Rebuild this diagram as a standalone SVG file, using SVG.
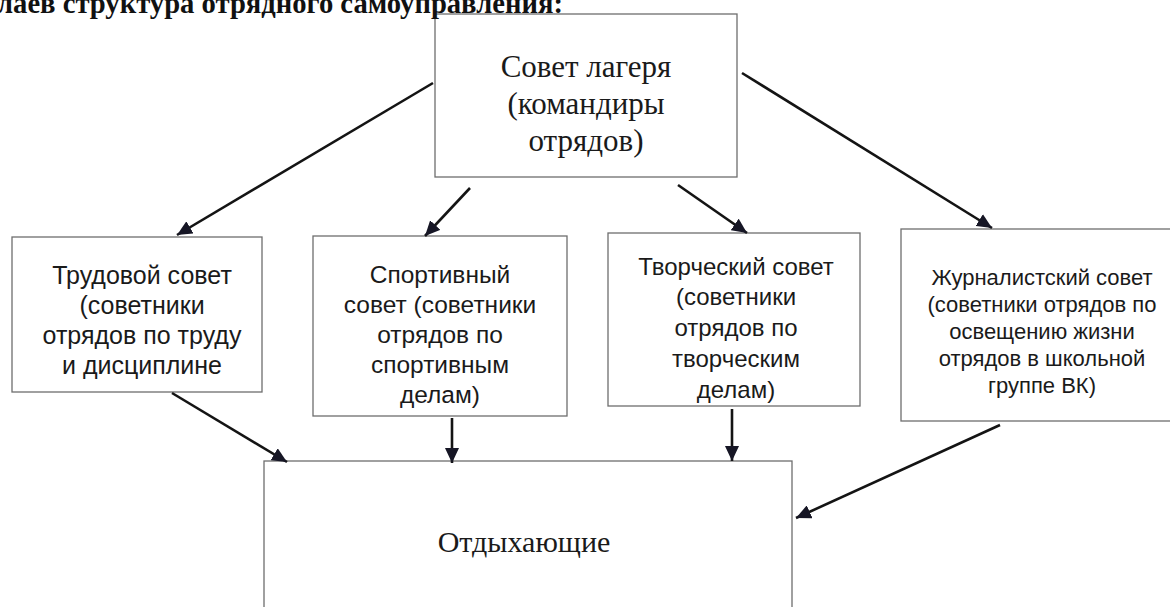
<svg xmlns="http://www.w3.org/2000/svg" width="1170" height="607" viewBox="0 0 1170 607">
<style>
.box{fill:#fff;stroke:#6e6e6e;stroke-width:1.3}
.serif{font-family:"Liberation Serif","Times New Roman",serif;fill:#1a1a1a;text-anchor:middle}
.sans{font-family:"Liberation Sans",Arial,sans-serif;fill:#1a1a1a;text-anchor:middle}
.title{font-family:"Liberation Serif","Times New Roman",serif;font-weight:bold;font-size:29px;fill:#111}
.conn{stroke:#141414;stroke-width:2.6;fill:none;marker-end:url(#ah)}
</style>
<defs>
<marker id="ah" markerUnits="userSpaceOnUse" markerWidth="16" markerHeight="14" refX="15" refY="7" orient="auto">
<path d="M0,0 L15,7 L0,14 z" fill="#161625"/>
</marker>
</defs>
<rect width="1170" height="607" fill="#fff"/>

<g id="council">
<rect class="box" x="435" y="14" width="302" height="163"/>
<text class="serif" font-size="31" x="586" y="77">Совет лагеря</text>
<text class="serif" font-size="31" x="586" y="114">(командиры</text>
<text class="serif" font-size="31" x="586" y="151">отрядов)</text>
</g>

<g id="labor">
<rect class="box" x="12" y="237" width="250" height="155"/>
<text class="sans" font-size="25" x="142" y="284">Трудовой совет</text>
<text class="sans" font-size="25" x="142" y="314">(советники</text>
<text class="sans" font-size="25" x="142" y="344">отрядов по труду</text>
<text class="sans" font-size="25" x="142" y="374">и дисциплине</text>
</g>

<g id="sport">
<rect class="box" x="313" y="236" width="254" height="180"/>
<text class="sans" font-size="24.5" x="440" y="283">Спортивный</text>
<text class="sans" font-size="24.5" x="440" y="313">совет (советники</text>
<text class="sans" font-size="24.5" x="440" y="343">отрядов по</text>
<text class="sans" font-size="24.5" x="440" y="373">спортивным</text>
<text class="sans" font-size="24.5" x="440" y="403">делам)</text>
</g>

<g id="creative">
<rect class="box" x="608" y="233" width="252" height="173"/>
<text class="sans" font-size="24" x="736" y="275">Творческий совет</text>
<text class="sans" font-size="24" x="736" y="305">(советники</text>
<text class="sans" font-size="24" x="736" y="336">отрядов по</text>
<text class="sans" font-size="24" x="736" y="367">творческим</text>
<text class="sans" font-size="24" x="736" y="398">делам)</text>
</g>

<g id="journal">
<rect class="box" x="901" y="229" width="280" height="192"/>
<text class="sans" font-size="22" x="1042" y="285">Журналистский совет</text>
<text class="sans" font-size="22" x="1042" y="312">(советники отрядов по</text>
<text class="sans" font-size="22" x="1042" y="339">освещению жизни</text>
<text class="sans" font-size="22" x="1042" y="366">отрядов в школьной</text>
<text class="sans" font-size="22" x="1042" y="393">группе ВК)</text>
</g>

<g id="campers">
<rect class="box" x="264" y="461" width="528" height="160"/>
<text class="serif" font-size="30" x="524" y="552">Отдыхающие</text>
</g>

<g id="connectors">
<line class="conn" x1="433" y1="83" x2="177" y2="235"/>
<line class="conn" x1="470" y1="188" x2="425" y2="236"/>
<line class="conn" x1="678" y1="185" x2="747" y2="233"/>
<line class="conn" x1="742" y1="73" x2="992" y2="228"/>
<line class="conn" x1="172" y1="393" x2="287" y2="462"/>
<line class="conn" x1="452" y1="418" x2="452" y2="463"/>
<line class="conn" x1="732" y1="409" x2="732" y2="461"/>
<line class="conn" x1="1000" y1="425" x2="796" y2="518"/>
</g>

<text class="title" x="-3" y="13" textLength="566" lengthAdjust="spacingAndGlyphs">лаев структура отрядного самоуправления:</text>
</svg>
